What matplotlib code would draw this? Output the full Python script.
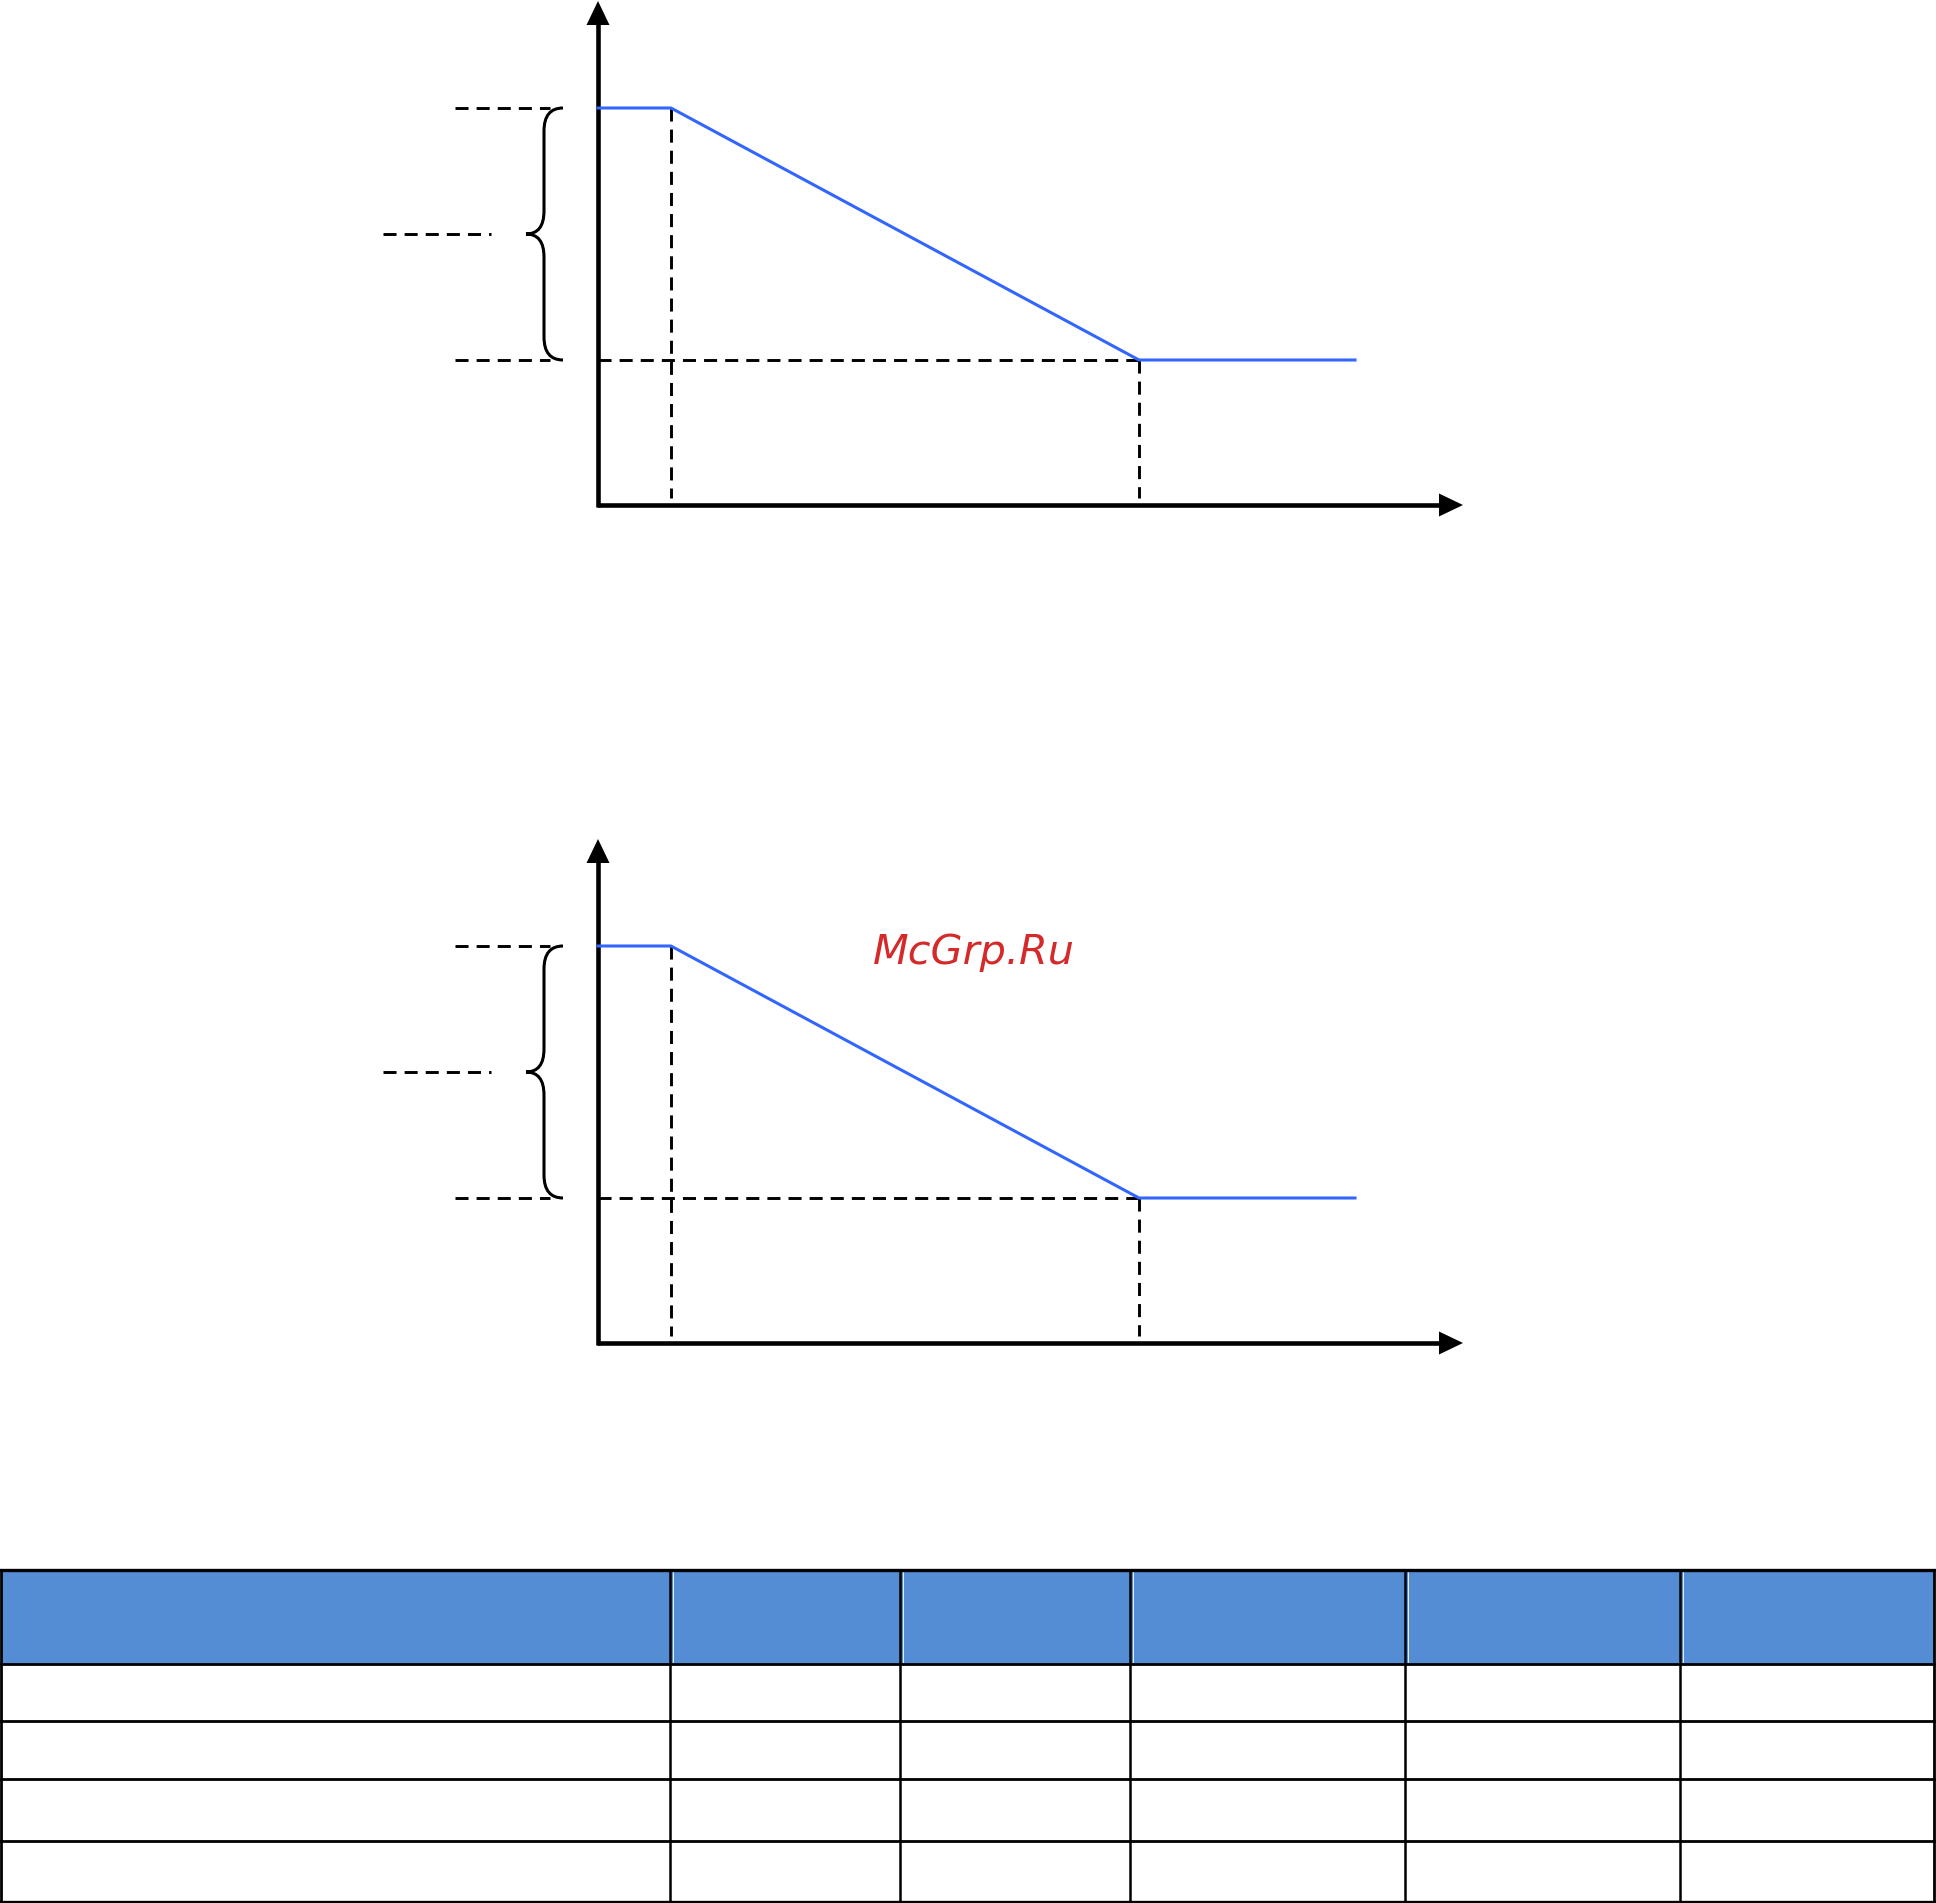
import matplotlib
matplotlib.use("Agg")
import matplotlib.pyplot as plt
from matplotlib.path import Path
from matplotlib.patches import PathPatch, Polygon, Rectangle

plt.rcParams['lines.scale_dashes'] = False

W, H, DPI = 1936, 1903, 100

# Characteristic curve (x: argument, y: output level), same for both diagrams
curve_x = [0, 73, 541, 757]
curve_y = [397, 397, 145, 145]
level_high = 397
level_low = 145
level_mid = 271
x_break1 = 73
x_break2 = 541

# Table structure (no cell text)
n_cols = 6
n_rows = 5
col_edges = [1, 670, 900, 1130, 1405, 1680, 1934]
row_edges = [1570, 1664, 1721, 1779, 1841, 1902]

BLUE = '#3366FF'
HEADER = '#548DD4'
DASH = (0, (9.4, 5.8))


fig = plt.figure(figsize=(W / DPI, H / DPI), dpi=DPI)
fig.patch.set_facecolor('white')


def chart_axes(origin_px, top_px, bottom_px, left_px=300, right_px=1500):
    """Axes whose data units are pixels measured from the chart origin (y up)."""
    ox, oy = origin_px
    ax = fig.add_axes([left_px / W, 1 - bottom_px / H,
                       (right_px - left_px) / W, (bottom_px - top_px) / H])
    ax.set_xlim(left_px - ox, right_px - ox)
    ax.set_ylim(oy - bottom_px, oy - top_px)
    ax.axis('off')
    return ax


def draw_diagram(ax):
    k = dict(color='black', lw=2.1, linestyle=DASH)
    # guide lines
    ax.plot([x_break1, x_break1], [level_high, 7], **k)
    ax.plot([x_break2, x_break2], [level_low, 7], **k)
    ax.plot([0, x_break2], [level_low, level_low], **k)
    ax.plot([-143, -48], [level_high, level_high], **k)
    ax.plot([-143, -48], [level_low, level_low], **k)
    ax.plot([-215, -107], [level_mid, level_mid], **k)

    # curly brace spanning the output range
    xe, xv, xt, r = -35, -54, -72, 23
    verts = [(xe, level_high), (xv, level_high), (xv, level_high - r),
             (xv, level_mid + r),
             (xv, level_mid), (xt, level_mid),
             (xv, level_mid), (xv, level_mid - r),
             (xv, level_low + r),
             (xv, level_low), (xe, level_low)]
    codes = [Path.MOVETO, Path.CURVE3, Path.CURVE3, Path.LINETO,
             Path.CURVE3, Path.CURVE3, Path.CURVE3, Path.CURVE3,
             Path.LINETO, Path.CURVE3, Path.CURVE3]
    ax.add_patch(PathPatch(Path(verts, codes), fill=False, lw=2.2,
                           edgecolor='black', capstyle='butt'))

    # axes with arrowheads
    ax.plot([0, 0], [-1.5, 482], color='black', lw=3.3, solid_capstyle='butt')
    ax.plot([-1.5, 842], [0, 0], color='black', lw=3.3, solid_capstyle='butt')
    ax.add_patch(Polygon([(-11.5, 480), (11.5, 480), (0, 504)], closed=True,
                         facecolor='black', edgecolor='none'))
    ax.add_patch(Polygon([(841, -11.5), (841, 11.5), (865, 0)], closed=True,
                         facecolor='black', edgecolor='none'))

    # characteristic
    ax.plot(curve_x, curve_y, color=BLUE, lw=2.2, solid_joinstyle='miter')


ax1 = chart_axes((598, 505), 0, 540)
draw_diagram(ax1)
ax2 = chart_axes((598, 1343), 800, 1380)
draw_diagram(ax2)

# overlay axes in figure pixel coordinates for text and table
axo = fig.add_axes([0, 0, 1, 1])
axo.set_xlim(0, W)
axo.set_ylim(H, 0)
axo.axis('off')

axo.text(974, 952, 'McGrp.Ru', color='#D42A2A', fontsize=29.8,
         fontstyle='italic', family='DejaVu Sans', ha='center', va='center')

# table: blue header row and empty body rows
axo.add_patch(Rectangle((col_edges[0], row_edges[0]),
                        col_edges[-1] - col_edges[0], row_edges[1] - row_edges[0],
                        facecolor=HEADER, edgecolor='none'))
for x in col_edges[1:-1]:
    axo.plot([x + 2.5, x + 2.5], [row_edges[0] + 2, row_edges[1] - 2],
             color='white', lw=0.6)
for i, y in enumerate(row_edges):
    axo.plot([col_edges[0], col_edges[-1]], [y, y], color='black',
             lw=2.0 if 0 < i < n_rows else 2.4, solid_capstyle='projecting')
for j, x in enumerate(col_edges):
    axo.plot([x, x], [row_edges[0], row_edges[-1]], color='black',
             lw=1.8 if 0 < j < n_cols else 2.0, solid_capstyle='projecting')

fig.savefig('out.png', dpi=DPI, facecolor='white')
